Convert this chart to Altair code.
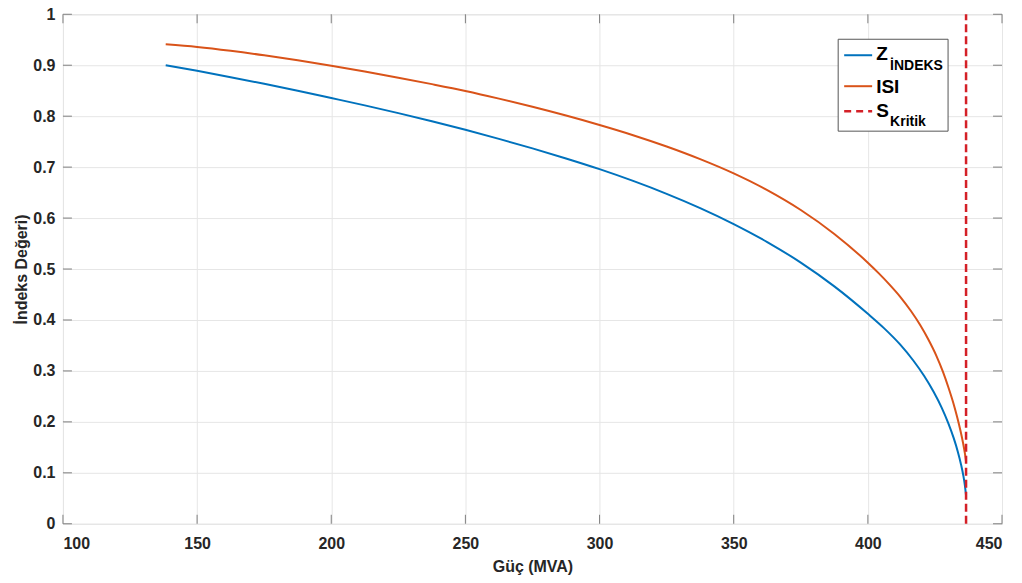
import altair as alt
import pandas as pd

# Z_INDEKS curve: power (MVA) and index value
guc_z = [138.3, 150, 162.5, 175, 187.5, 200, 212.5, 225, 237.5, 250, 262.5, 275, 287.5,
         300, 312.5, 325, 337.5, 350, 362.5, 375, 387.5, 400, 406, 412, 417, 421,
         424.5, 427.5, 430, 432, 433.5, 434.7, 435.6, 436.2, 436.6]
z_indeks = [0.900, 0.889, 0.8765, 0.8635, 0.850, 0.8357, 0.8212, 0.806, 0.790, 0.7732,
            0.7555, 0.7368, 0.717, 0.696, 0.6729, 0.6476, 0.6196, 0.5883, 0.553, 0.5126,
            0.466, 0.4121, 0.384, 0.352, 0.320, 0.290, 0.259, 0.228, 0.197, 0.168,
            0.142, 0.117, 0.094, 0.074, 0.055]

# ISI curve
guc_isi = [138.3, 150, 162.5, 175, 187.5, 200, 212.5, 225, 237.5, 250, 262.5, 275, 287.5,
           300, 312.5, 325, 337.5, 350, 362.5, 375, 387.5, 400, 404, 408, 412, 416,
           419.5, 422.5, 425.5, 428, 430, 431.8, 433.3, 434.5, 435.5, 436.2, 436.6]
isi = [0.941, 0.9358, 0.9283, 0.9195, 0.9097, 0.899, 0.8876, 0.8756, 0.8629, 0.8495,
       0.8345, 0.8184, 0.8012, 0.7827, 0.7627, 0.7405, 0.7157, 0.6877, 0.6549, 0.6159,
       0.5689, 0.5124, 0.492, 0.470, 0.446, 0.418, 0.390, 0.362, 0.330, 0.298, 0.268,
       0.238, 0.209, 0.183, 0.158, 0.137, 0.122]

S_KRITIK = 436.6

x_ticks = [100, 150, 200, 250, 300, 350, 400, 450]
y_ticks = [0, 0.1, 0.2, 0.3, 0.4, 0.5, 0.6, 0.7, 0.8, 0.9, 1.0]

series_names = ["Z", "ISI"]
colors = ["#0072BD", "#D95319"]
crit_color = "#D42027"
axis_gray = "#7f7f7f"

df = pd.concat([
    pd.DataFrame({"Guc": guc_z, "Deger": z_indeks, "Seri": "Z"}),
    pd.DataFrame({"Guc": guc_isi, "Deger": isi, "Seri": "ISI"}),
])
crit = pd.DataFrame({"Guc": [S_KRITIK], "y0": [0.0], "y1": [1.0]})
xt = pd.DataFrame({"Guc": x_ticks})
yt = pd.DataFrame({"Deger": y_ticks})

FONT = "Liberation Sans"
W, H = 940, 510
TICK = 9

xscale = alt.Scale(domain=[100, 450], nice=False, zero=False)
yscale = alt.Scale(domain=[0, 1], nice=False)

xenc = alt.X("Guc:Q", scale=xscale,
             axis=alt.Axis(title="Güç (MVA)", values=x_ticks, format="d",
                           grid=True, gridColor="#e6e6e6", domain=False, ticks=False,
                           labelFont=FONT, labelFontSize=16, labelFontWeight="bold",
                           labelColor="#262626", labelPadding=12,
                           titleFont=FONT, titleFontSize=16, titleFontWeight="bold",
                           titleColor="#262626", titlePadding=7))
yenc = alt.Y("Deger:Q", scale=yscale,
             axis=alt.Axis(title="İndeks Değeri)", values=y_ticks, format=".1~f",
                           grid=True, gridColor="#e6e6e6", domain=False, ticks=False,
                           labelFont=FONT, labelFontSize=16, labelFontWeight="bold",
                           labelColor="#262626", labelPadding=8,
                           titleFont=FONT, titleFontSize=16, titleFontWeight="bold",
                           titleColor="#262626", titlePadding=3))

lines = alt.Chart(df).mark_line(strokeWidth=2, interpolate="monotone").encode(
    x=xenc, y=yenc,
    color=alt.Color("Seri:N", scale=alt.Scale(domain=series_names, range=colors), legend=None),
    detail="Seri:N",
)

crit_rule = alt.Chart(crit).mark_rule(color=crit_color, strokeWidth=2.5, strokeDash=[8, 4]).encode(
    x=alt.X("Guc:Q", scale=xscale), y=alt.Y("y0:Q", scale=yscale), y2="y1:Q"
)

# Inward ticks on all four sides (MATLAB box style)
tick_b = alt.Chart(xt).mark_rule(color=axis_gray, strokeWidth=1).encode(
    x=alt.X("Guc:Q", scale=xscale), y=alt.value(H), y2=alt.value(H - TICK))
tick_t = alt.Chart(xt).mark_rule(color=axis_gray, strokeWidth=1).encode(
    x=alt.X("Guc:Q", scale=xscale), y=alt.value(0), y2=alt.value(TICK))
tick_l = alt.Chart(yt).mark_rule(color=axis_gray, strokeWidth=1).encode(
    y=alt.Y("Deger:Q", scale=yscale), x=alt.value(0), x2=alt.value(TICK))
tick_r = alt.Chart(yt).mark_rule(color=axis_gray, strokeWidth=1).encode(
    y=alt.Y("Deger:Q", scale=yscale), x=alt.value(W), x2=alt.value(W - TICK))

# Custom MATLAB-style legend box (pixel positions inside plot area)
box = alt.Chart(crit).mark_rect(fill="white", stroke="#555555", strokeWidth=1).encode(
    x=alt.value(776), x2=alt.value(886), y=alt.value(25), y2=alt.value(117)
)
leg_z = alt.Chart(crit).mark_rule(color=colors[0], strokeWidth=2).encode(
    x=alt.value(782), x2=alt.value(810), y=alt.value(41))
leg_isi = alt.Chart(crit).mark_rule(color=colors[1], strokeWidth=2).encode(
    x=alt.value(782), x2=alt.value(810), y=alt.value(72))
leg_s = alt.Chart(crit).mark_rule(color=crit_color, strokeWidth=2.5, strokeDash=[7, 5]).encode(
    x=alt.value(782), x2=alt.value(810), y=alt.value(97))

def txt(s, x, y, size):
    return alt.Chart(crit).mark_text(
        align="left", baseline="alphabetic", font=FONT, fontSize=size,
        fontWeight="bold", color="#000000"
    ).encode(x=alt.value(x), y=alt.value(y), text=alt.value(s))

legend_layers = [
    box, leg_z, leg_isi, leg_s,
    txt("Z", 814, 46, 19), txt("İNDEKS", 828, 56, 14),
    txt("ISI", 814, 79, 19),
    txt("S", 814, 103, 19), txt("Kritik", 828, 112, 14),
]

chart = alt.layer(lines, crit_rule, tick_b, tick_t, tick_l, tick_r, *legend_layers).properties(
    width=W, height=H,
    autosize=alt.AutoSizeParams(type="none"),
    padding={"left": 55, "top": 6, "right": 12, "bottom": 52},
).configure_view(stroke=axis_gray, strokeWidth=1.2).configure(background="white")

chart.save("out.html", embed_options={"renderer": "svg", "actions": False})
